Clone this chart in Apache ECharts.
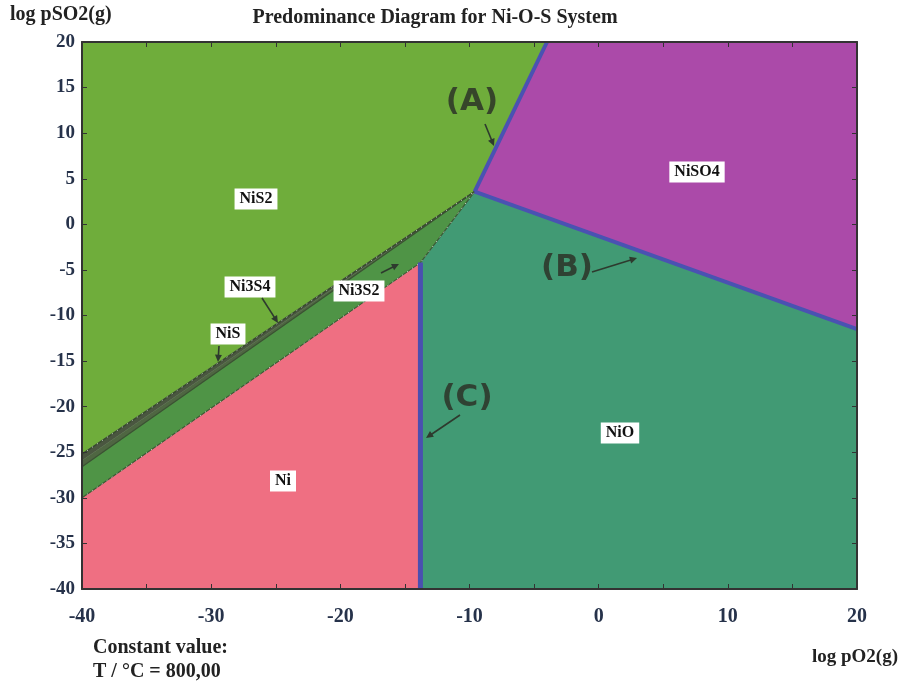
<!DOCTYPE html>
<html>
<head>
<meta charset="utf-8">
<script src="https://cdn.jsdelivr.net/npm/echarts@6/dist/echarts.min.js"></script>
<style>
html,body{margin:0;padding:0;background:#fff;}
#c{width:901px;height:686px;}
</style>
</head>
<body>
<div id="c"></div>
<script>
// ---- data (log pO2, log pSO2) ----
const xTicks = [-40, -30, -20, -10, 0, 10, 20];
const yTicks = [20, 15, 10, 5, 0, -5, -10, -15, -20, -25, -30, -35, -40];
const junction = [-9.6, 3.6];
const lineA = [junction, [-4.0, 20]];
const lineB = [junction, [20, -11.5]];
const lineC = [[-13.8, -4.2], [-13.8, -40]];
const niS2 = [[-40, 20], [-4.0, 20], junction, [-40, -25.2]];
const niSO4 = [[-4.0, 20], [20, 20], [20, -11.5], junction];
const ni3S4 = [[-40, -25.2], junction, [-40, -25.9]];
const niS = [[-40, -25.9], junction, [-40, -26.6]];
const ni3S2 = [[-40, -26.6], junction, [-13.8, -4.2], [-40, -30]];
const niO = [junction, [20, -11.5], [20, -40], [-13.8, -40], [-13.8, -4.2]];
const ni = [[-40, -30], [-13.8, -4.2], [-13.8, -40], [-40, -40]];
const greenEdgeUpper = [[-40, -25.2], junction];
const greenEdgeLower = [[-40, -26.6], junction];
const ni3S2Lower = [[-40, -30], [-13.8, -4.2], junction];

const regions = [
  {name: 'NiS2', pts: niS2, color: '#6fad3b'},
  {name: 'NiSO4', pts: niSO4, color: '#ab4aa9'},
  {name: 'NiO', pts: niO, color: '#419a74'},
  {name: 'Ni', pts: ni, color: '#ef6f82'},
  {name: 'Ni3S2', pts: ni3S2, color: '#4f9446'},
  {name: 'Ni3S4', pts: ni3S4, color: '#4a5640'},
  {name: 'NiS', pts: niS, color: '#4f6642'}
];

const chart = echarts.init(document.getElementById('c'), null, {renderer: 'canvas'});
const serif = '"Liberation Serif", "DejaVu Serif", serif';
const labelColor = '#26324a';

function boxLabel(text, cx, cy) {
  return {
    type: 'text', x: cx, y: cy, z: 100,
    style: {
      text: text, fill: '#111', font: 'bold 16px ' + serif,
      align: 'center', verticalAlign: 'middle',
      backgroundColor: '#ffffff', padding: [3, 5, 2, 5]
    }
  };
}
function bigLabel(text, cx, cy) {
  return {
    type: 'text', x: cx, y: cy, z: 100,
    style: {
      text: text, fill: 'rgba(45,50,40,0.85)', font: 'bold 31px "DejaVu Sans", sans-serif',
      align: 'center', verticalAlign: 'middle'
    }
  };
}
function arrow(x1, y1, x2, y2) {
  const a = Math.atan2(y2 - y1, x2 - x1);
  const L = 8, w = 0.45;
  return [
    {type: 'line', z: 100, shape: {x1: x1, y1: y1, x2: x2 - Math.cos(a) * 4, y2: y2 - Math.sin(a) * 4},
     style: {stroke: '#2e3a2e', lineWidth: 1.6}},
    {type: 'polygon', z: 100, shape: {points: [
      [x2, y2],
      [x2 - L * Math.cos(a - w), y2 - L * Math.sin(a - w)],
      [x2 - L * Math.cos(a + w), y2 - L * Math.sin(a + w)]
    ]}, style: {fill: '#2e3a2e'}}
  ];
}

const axisCommon = {
  type: 'value', min: -40, max: 20, interval: 5, z: 10,
  splitLine: {show: false},
  axisLine: {show: true, onZero: false, lineStyle: {color: '#333', width: 2}},
  axisTick: {show: true, inside: true, length: 5, lineStyle: {color: '#333', width: 1}}
};

const option = {
  animation: false,
  backgroundColor: '#ffffff',
  grid: {left: 82, right: 44, top: 42, bottom: 97, containLabel: false},
  xAxis: [
    Object.assign({}, axisCommon, {
      position: 'bottom',
      axisLabel: {show: true, interval: 1, margin: 18, color: labelColor, fontFamily: serif, fontWeight: 'bold', fontSize: 20,
        formatter: function (v) { return xTicks.indexOf(v) >= 0 ? String(v) : ''; }}
    }),
    Object.assign({}, axisCommon, {position: 'top', axisLabel: {show: false}})
  ],
  yAxis: [
    Object.assign({}, axisCommon, {
      position: 'left',
      axisLabel: {show: true, margin: 7, color: labelColor, fontFamily: serif, fontWeight: 'bold', fontSize: 19,
        formatter: function (v) { return yTicks.indexOf(v) >= 0 ? String(v) : ''; }}
    }),
    Object.assign({}, axisCommon, {position: 'right', axisLabel: {show: false}})
  ],
  series: [
    {
      type: 'custom', name: 'regions', xAxisIndex: 0, yAxisIndex: 0, z: 1,
      data: regions.map(function (r, i) { return [i]; }),
      renderItem: function (params, api) {
        const r = regions[params.dataIndex];
        return {
          type: 'polygon',
          shape: {points: r.pts.map(function (p) { return api.coord(p); })},
          style: {fill: r.color, stroke: r.color, lineWidth: 0.5}
        };
      },
      silent: true
    },
    {type: 'line', data: greenEdgeUpper, symbol: 'none', z: 3, silent: true,
     lineStyle: {color: '#384a30', width: 1.5}},
    {type: 'line', data: greenEdgeLower, symbol: 'none', z: 3, silent: true,
     lineStyle: {color: '#3a5232', width: 1.2}},
    {type: 'line', data: ni3S2Lower, symbol: 'none', z: 3, silent: true,
     lineStyle: {color: '#3c5a35', width: 1.2}},
    {type: 'line', data: greenEdgeUpper, symbol: 'none', z: 4, silent: true,
     lineStyle: {color: 'rgba(255,255,255,0.8)', width: 1, type: [1, 5]}},
    {type: 'line', data: ni3S2Lower, symbol: 'none', z: 4, silent: true,
     lineStyle: {color: 'rgba(255,255,255,0.8)', width: 1, type: [1, 5]}},
    {type: 'line', data: lineA, symbol: 'none', z: 5, silent: true,
     lineStyle: {color: '#4a52b2', width: 4}},
    {type: 'line', data: lineB, symbol: 'none', z: 5, silent: true,
     lineStyle: {color: '#4a52b2', width: 4}},
    {type: 'line', data: lineC, symbol: 'none', z: 5, silent: true,
     lineStyle: {color: '#4a4fb0', width: 5}}
  ],
  graphic: [].concat(
    [
      {type: 'text', x: 435, y: 18, z: 100, style: {text: 'Predominance Diagram for Ni-O-S System', fill: '#222',
        font: 'bold 20px ' + serif, align: 'center', verticalAlign: 'middle'}},
      {type: 'text', x: 10, y: 15, z: 100, style: {text: 'log pSO2(g)', fill: '#222',
        font: 'bold 20px ' + serif, align: 'left', verticalAlign: 'middle'}},
      {type: 'text', x: 898, y: 657, z: 100, style: {text: 'log pO2(g)', fill: '#222',
        font: 'bold 19px ' + serif, align: 'right', verticalAlign: 'middle'}},
      {type: 'text', x: 93, y: 648, z: 100, style: {text: 'Constant value:', fill: '#222',
        font: 'bold 20px ' + serif, align: 'left', verticalAlign: 'middle'}},
      {type: 'text', x: 93, y: 672, z: 100, style: {text: 'T / \u00B0C = 800,00', fill: '#222',
        font: 'bold 20px ' + serif, align: 'left', verticalAlign: 'middle'}},
      boxLabel('NiS2', 256, 199),
      boxLabel('NiSO4', 697, 172),
      boxLabel('NiO', 620, 433),
      boxLabel('Ni', 283, 481),
      boxLabel('Ni3S4', 250, 287),
      boxLabel('Ni3S2', 359, 291),
      boxLabel('NiS', 228, 334),
      bigLabel('(A)', 472, 102),
      bigLabel('(B)', 567, 268),
      bigLabel('(C)', 467, 398)
    ],
    arrow(485, 124, 494, 146),
    arrow(592, 272, 637, 258),
    arrow(460, 415, 426, 438),
    arrow(262, 298, 278, 323),
    arrow(219, 346, 218, 362),
    arrow(381, 273, 399, 264)
  )
};
chart.setOption(option);
</script>
</body>
</html>
